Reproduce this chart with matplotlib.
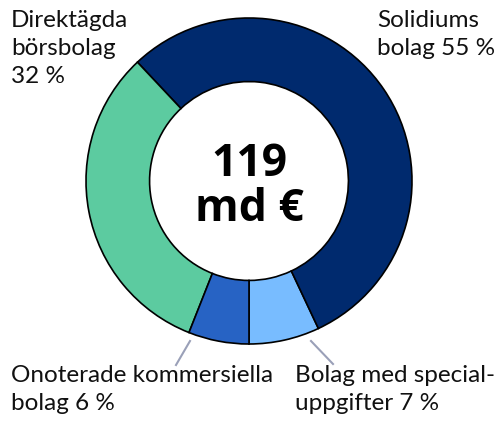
import matplotlib.pyplot as plt

labels = ["Bolag med special-\nuppgifter 7 %", "Solidiums\nbolag 55 %",
          "Direktägda\nbörsbolag\n32 %", "Onoterade kommersiella\nbolag 6 %"]
shares = [7, 55, 32, 6]
colors = ["#78bcff", "#002a6e", "#5ccba0", "#2763c4"]
total_text = "119\nmd €"

W, H = 499, 421
fig = plt.figure(figsize=(W / 100, H / 100), dpi=100)
ax = fig.add_axes([0, 0, 1, 1])

cx, cy, r = 249, H - 181, 163
ax.pie(shares, colors=colors, startangle=-90, counterclock=True,
       center=(cx, cy), radius=r, frame=True,
       wedgeprops=dict(width=r * 0.39, edgecolor="black", linewidth=1.2))
ax.set_xlim(0, W)
ax.set_ylim(0, H)
ax.set_aspect("equal")
ax.axis("off")

ax.text(cx, cy - 6, total_text, ha="center", va="center", fontsize=32,
        fontweight="bold", family="Open Sans", linespacing=1.0)

font = dict(fontsize=17.5, family="Lato", color="#111111", linespacing=1.4)
ax.text(11, H - 10, labels[2], ha="left", va="top", **font)
ax.text(377, H - 10, labels[1], ha="left", va="top", **font)
ax.text(11, H - 365, labels[3], ha="left", va="top", **font)
ax.text(295, H - 365, labels[0], ha="left", va="top", **font)

ax.plot([190, 176], [H - 341, H - 365], color="#9aa0b8", lw=1.5)
ax.plot([311, 333], [H - 341, H - 364], color="#9aa0b8", lw=1.5)

fig.savefig("out.png", dpi=100)
